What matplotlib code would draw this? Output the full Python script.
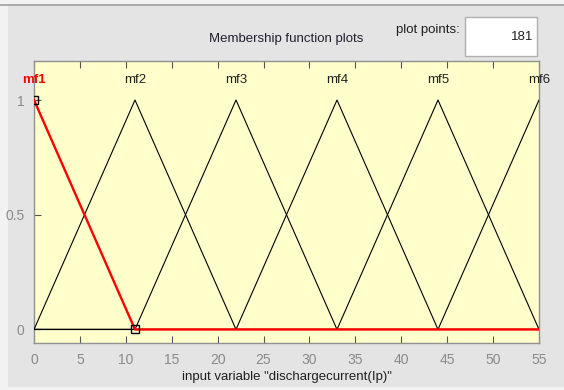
import matplotlib
matplotlib.use("Agg")
import matplotlib.pyplot as plt
from matplotlib.patches import Rectangle
import numpy as np

mf_names = ["mf1", "mf2", "mf3", "mf4", "mf5", "mf6"]
mf_params = [[-11, 0, 11], [0, 11, 22], [11, 22, 33], [22, 33, 44], [33, 44, 55], [44, 55, 66]]
x_ticks = [0, 5, 10, 15, 20, 25, 30, 35, 40, 45, 50, 55]
y_ticks = [0, 0.5, 1]
n_points = 181
xlabel = 'input variable "dischargecurrent(Ip)"'

W, H = 564, 390
fig = plt.figure(figsize=(W/100, H/100), dpi=100)
fig.patch.set_facecolor("#f2f2f2")

def fx(px): return px / W
def fy(py): return 1 - py / H

# gray panel
fig.add_artist(Rectangle((fx(8), fy(387)), fx(564) - fx(8), fy(5) - fy(387),
                         transform=fig.transFigure, facecolor="#e4e4e4",
                         edgecolor="none", zorder=0))
# top border line
fig.add_artist(plt.Line2D([fx(0), fx(564)], [fy(5), fy(5)], color="#a0a0a0", lw=1.2))

ax = fig.add_axes([fx(34), fy(343), fx(539) - fx(34), fy(61) - fy(343)])
ax.set_facecolor("#ffffcc")
ax.set_xlim(0, 55)
ax.set_ylim(-0.059, 1.17)

x = np.linspace(0, 55, n_points)
def tri(x, a, b, c):
    return np.maximum(np.minimum((x - a) / (b - a), (c - x) / (c - b)), 0)

for i, (name, p) in enumerate(zip(mf_names, mf_params)):
    y = tri(x, *p)
    if i == 0:
        ax.plot(x, y, color="red", lw=1.7, zorder=4)
    else:
        ax.plot(x, y, color="black", lw=0.8, zorder=3)
    ax.text(p[1], 1.087, name, ha="center", va="center", fontsize=9.5,
            color="red" if i == 0 else "#202020",
            fontweight="bold" if i == 0 else "normal", family="Liberation Sans")

# selected markers
ax.plot([mf_params[0][1], mf_params[0][2]], [1, 0], ls="none", marker="s", ms=6,
        mfc="none", mec="black", mew=1.0, zorder=5)

ax.set_xticks(x_ticks)
ax.set_yticks(y_ticks)
ax.set_yticklabels(["0", "0.5", "1"])
ax.tick_params(direction="in", top=True, right=False, length=5, width=0.8,
               labelsize=10, labelcolor="#8a8a8a", color="#555555", pad=7)
for lab in ax.get_xticklabels() + ax.get_yticklabels():
    lab.set_family("Liberation Sans")
for s in ax.spines.values():
    s.set_color("#909090")
    s.set_linewidth(1.0)
ax.set_xlabel(xlabel, fontsize=9.5, family="Liberation Sans", labelpad=3, color="#202020")

fig.text(fx(286), fy(39), "Membership function plots", ha="center", va="center",
         fontsize=9.5, family="Liberation Sans", color="#202030")
fig.text(fx(428), fy(30), "plot points:", ha="center", va="center",
         fontsize=9.5, family="Liberation Sans", color="#202020")
fig.add_artist(Rectangle((fx(465), fy(56)), fx(537) - fx(465), fy(17) - fy(56),
                         transform=fig.transFigure, facecolor="white",
                         edgecolor="#b0b0b0", lw=1.0))
fig.text(fx(533), fy(37), str(n_points), ha="right", va="center",
         fontsize=9.5, family="Liberation Sans", color="#202020")

fig.savefig("out.png", dpi=100, facecolor=fig.get_facecolor())
